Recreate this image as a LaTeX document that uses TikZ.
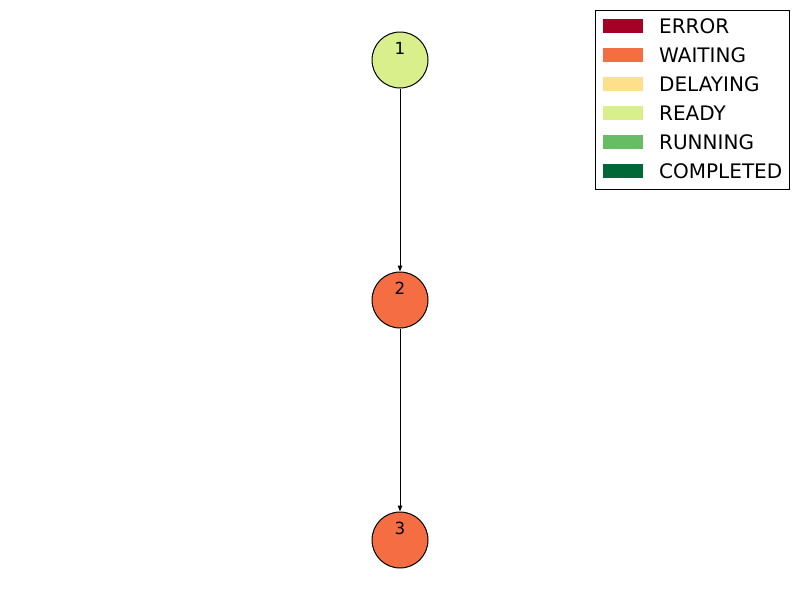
\documentclass[tikz,border=0pt]{standalone}
\usepackage{fontspec}
\setmainfont{DejaVu Sans}
\usepackage{tikz}
\usetikzlibrary{arrows.meta}

\definecolor{cerror}{HTML}{A50026}
\definecolor{cwaiting}{HTML}{F46D43}
\definecolor{cdelaying}{HTML}{FEE08B}
\definecolor{cready}{HTML}{D9EF8B}
\definecolor{crunning}{HTML}{66BD63}
\definecolor{ccompleted}{HTML}{006837}

\tikzset{
  jobnode/.style={circle,draw=black,line width=1pt,minimum size=56pt,inner sep=0pt,
    font=\fontsize{16.7}{20}\selectfont,text height=12pt,text depth=23pt},
  jobedge/.style={line width=1pt,-{Triangle[length=6pt,width=4.5pt]}},
  legtext/.style={anchor=west,inner sep=0pt,font=\fontsize{20}{22}\selectfont}
}

\begin{document}
\begin{tikzpicture}
    [line cap=butt,line join=miter,x=1pt,y=-1pt]
\useasboundingbox (0,0) rectangle (800,600);
%the job graph
  \node[jobnode,fill=cready] (n1) at (400,60) {1};
  \node[jobnode,fill=cwaiting] (n2) at (400,300) {2};
  \node[jobnode,fill=cwaiting] (n3) at (400,540) {3};

  \draw[jobedge] (n1) -- (n2);
  \draw[jobedge] (n2) -- (n3);

%legend with the states
  \draw[black,line width=1pt] (595.5,10.5) rectangle (789.5,189.5);
   \fill[cerror] (603,19) rectangle (643,33);
   \node[legtext] (lerror) at (659,26) {ERROR};
   \fill[cwaiting] (603,48) rectangle (643,62);
   \node[legtext] (lwaiting) at (659,55) {WAITING};
   \fill[cdelaying] (603,77) rectangle (643,91);
   \node[legtext] (ldelaying) at (659,84) {DELAYING};
   \fill[cready] (603,106) rectangle (643,120);
   \node[legtext] (lready) at (659,113) {READY};
   \fill[crunning] (603,135) rectangle (643,149);
   \node[legtext] (lrunning) at (659,142) {RUNNING};
   \fill[ccompleted] (603,164) rectangle (643,178);
   \node[legtext] (lcompleted) at (659,171) {COMPLETED};

\end{tikzpicture}
\end{document}
